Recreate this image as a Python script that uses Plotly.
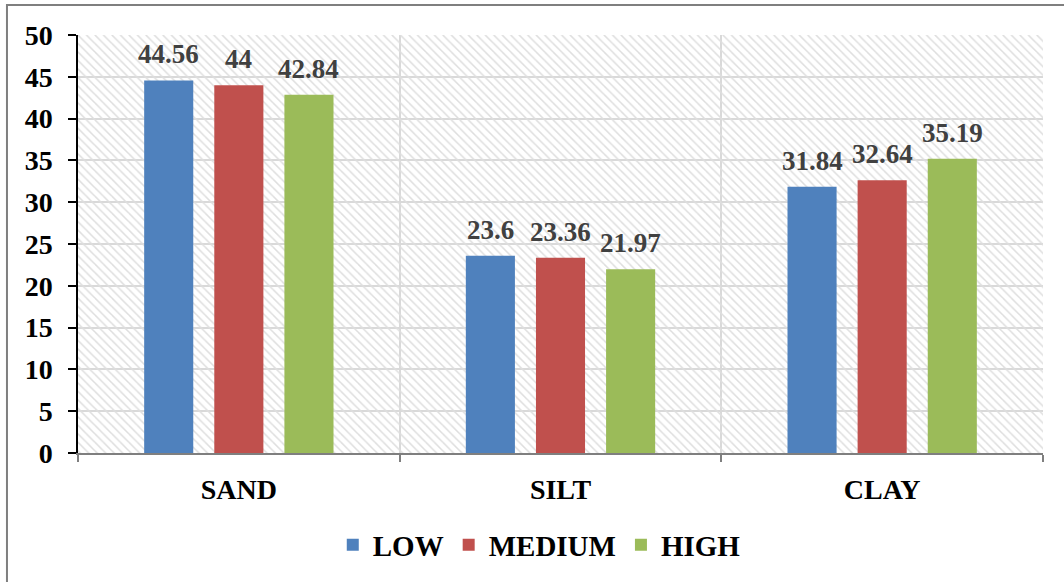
import plotly.graph_objects as go

# Soil texture fractions (%) under three levels
categories = ["SAND", "SILT", "CLAY"]
low = [44.56, 23.6, 31.84]
medium = [44, 23.36, 32.64]
high = [42.84, 21.97, 35.19]
series_names = ["LOW", "MEDIUM", "HIGH"]
colors = ["#4F81BD", "#C0504D", "#9BBB59"]
y_max = 50
y_ticks = [0, 5, 10, 15, 20, 25, 30, 35, 40, 45, 50]

FONT = "Times New Roman"
BARGAP = 0.346
BARGROUPGAP = 0.3

fig = go.Figure()

# hatched plot-area background: one transparent bar spanning all categories
n = len(categories)
fig.add_trace(go.Bar(
    x=[categories[n // 2]], y=[y_max], width=[n], offset=[-n / 2],
    marker=dict(color="rgba(0,0,0,0)", line=dict(width=0),
                pattern=dict(shape="\\", fgcolor="#dedede", bgcolor="rgba(0,0,0,0)",
                             size=6, solidity=0.25, fillmode="replace")),
    showlegend=False, hoverinfo="skip",
))

series = [low, medium, high]
for name, vals, col in zip(series_names, series, colors):
    fig.add_trace(go.Bar(
        name=f"<b>{name}</b>", x=categories, y=vals,
        marker=dict(color=col, line=dict(width=0)),
        hovertemplate="%{x}: %{y}<extra>" + name + "</extra>",
    ))

# value labels above each bar, centred on the grouped bar slots
slot = (1 - BARGAP) / len(series)
annotations = []
for j, vals in enumerate(series):
    for i, v in enumerate(vals):
        annotations.append(dict(
            x=i + (j - (len(series) - 1) / 2) * slot, y=v, xref="x", yref="y",
            text=f"<b>{v:g}</b>", showarrow=False, yanchor="bottom", yshift=9,
            font=dict(family=FONT, size=27, color="#404040"),
        ))

fig.update_layout(
    width=1064, height=582,
    margin=dict(l=78, r=21, t=35, b=129),
    paper_bgcolor="white", plot_bgcolor="white",
    barmode="group", bargap=BARGAP, bargroupgap=BARGROUPGAP,
    font=dict(family=FONT, size=28, color="black"),
    legend=dict(orientation="h", x=0.478, xanchor="center", y=-0.22, yanchor="middle",
                font=dict(family=FONT, size=29, color="black"),
                itemwidth=30, traceorder="normal"),
    showlegend=True,
    annotations=annotations,
    shapes=[dict(type="rect", xref="paper", yref="paper",
                 x0=-0.0736, x1=1.03, y0=-0.35, y1=1.0718,
                 line=dict(color="#7f7f7f", width=2), layer="below")],
)

fig.update_xaxes(
    type="category", categoryorder="array", categoryarray=categories,
    tickvals=categories, ticktext=[f"<b>{c}</b>" for c in categories],
    tickson="boundaries", ticks="outside", ticklen=7, tickcolor="#7f7f7f", tickwidth=1.5,
    showline=True, linecolor="#7f7f7f", linewidth=1.5,
    showgrid=True, gridcolor="#d9d9d9", gridwidth=1.5,
    tickfont=dict(family=FONT, size=28, color="black"),
    ticklabelstandoff=11, range=[-0.5, n - 0.5],
)
fig.update_yaxes(
    range=[0, y_max], tickvals=y_ticks, ticktext=[f"<b>{t}</b>" for t in y_ticks],
    ticks="outside", ticklen=8,
    tickcolor="black", tickwidth=1.5,
    showline=True, linecolor="black", linewidth=1.5,
    showgrid=True, gridcolor="#d9d9d9", gridwidth=1.5, zeroline=False,
    tickfont=dict(family=FONT, size=28, color="black"),
    ticklabelstandoff=10,
)

fig.write_html("out.html")
